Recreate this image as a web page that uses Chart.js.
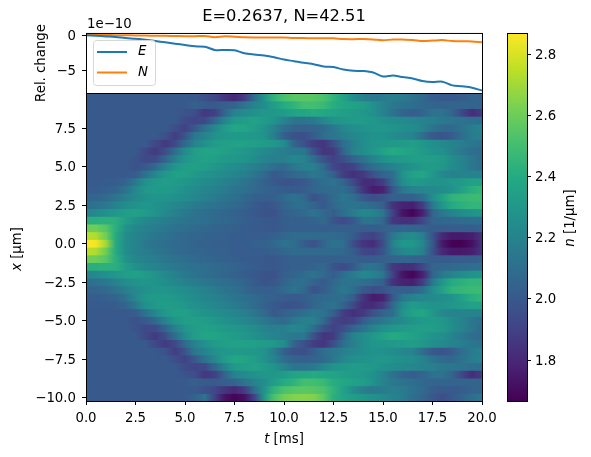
<!DOCTYPE html>
<html>
<head>
<meta charset="utf-8">
<title>Density evolution</title>
<script src="https://cdn.jsdelivr.net/npm/chart.js@4"></script>
<style>
  html, body { margin: 0; padding: 0; background: #fff; }
  canvas { position: absolute; left: 0; top: 0; }
</style>
</head>
<body>
<canvas id="heatChart" width="591" height="457"></canvas>
<canvas id="changeChart" width="591" height="457"></canvas>
<canvas id="barChart" width="591" height="457"></canvas>
<script>
// time samples in ms
const tMs = [0, 0.5, 1, 1.5, 2, 2.5, 3, 3.5, 4, 4.5, 5, 5.5, 6, 6.5, 7, 7.5, 8, 8.5, 9, 9.5, 10,
  10.5, 11, 11.5, 12, 12.5, 13, 13.5, 14, 14.5, 15, 15.5, 16, 16.5, 17, 17.5, 18, 18.5, 19, 19.5, 20];

// relative change, in units of 1e-10
const relE = [0, -0.07, -0.16, -0.25, -0.4, -0.5, -0.63, -0.82, -1.0, -1.2, -1.39, -1.58, -1.63, -2.1, -2.1, -2.15, -2.57, -2.76, -2.9, -3.14, -3.47,
  -3.7, -3.94, -4.13, -4.47, -4.55, -4.89, -5.08, -5.12, -5.32, -5.89, -5.74, -5.97, -6.17, -6.54, -6.68, -6.64, -7.16, -7.3, -7.49, -7.91];
const relN = [0.05, 0.04, 0.03, 0.02, 0, -0.02, -0.04, -0.07, -0.08, -0.1, -0.14, -0.13, -0.1, -0.27, -0.14, -0.2, -0.3, -0.32, -0.31, -0.31, -0.32,
  -0.38, -0.4, -0.44, -0.41, -0.43, -0.55, -0.57, -0.53, -0.59, -0.72, -0.6, -0.62, -0.66, -0.82, -0.76, -0.69, -0.83, -0.87, -0.88, -1.01];

// density n(t) at each |x|, the cloud is mirror symmetric around x = 0
const row00 = [2.87, 2.85, 2.70, 2.40, 2.25, 2.20, 2.15, 2.12, 2.10, 2.08, 2.07, 2.05, 2.04, 2.03, 2.03, 2.02, 2.02, 2.03, 2.04, 2.07, 2.12,
  2.10, 2.02, 1.97, 2.05, 2.13, 2.10, 1.95, 1.85, 1.82, 1.95, 2.20, 2.30, 2.30, 2.22, 2.00, 1.75, 1.67, 1.67, 1.72, 1.85];
const row05 = [2.75, 2.72, 2.60, 2.40, 2.25, 2.20, 2.17, 2.14, 2.12, 2.09, 2.07, 2.06, 2.05, 2.04, 2.03, 2.02, 2.02, 2.02, 2.02, 2.03, 2.06,
  2.09, 2.08, 2.08, 2.08, 2.08, 2.07, 2.02, 1.92, 1.90, 1.98, 2.15, 2.22, 2.25, 2.18, 1.98, 1.80, 1.75, 1.75, 1.77, 1.85];
const row10 = [2.60, 2.60, 2.55, 2.42, 2.28, 2.22, 2.19, 2.17, 2.14, 2.12, 2.10, 2.08, 2.07, 2.05, 2.04, 2.03, 2.02, 2.01, 2.00, 1.99, 2.02,
  2.03, 2.03, 2.03, 2.03, 2.03, 2.03, 2.03, 2.02, 2.02, 2.03, 2.05, 2.06, 2.05, 2.04, 2.02, 2.01, 2.02, 2.02, 2.02, 2.03];
const row15 = [2.42, 2.42, 2.43, 2.42, 2.33, 2.27, 2.22, 2.20, 2.17, 2.15, 2.13, 2.11, 2.10, 2.08, 2.07, 2.05, 2.03, 2.02, 2.00, 1.99, 2.02,
  2.03, 2.03, 2.04, 2.08, 1.98, 1.94, 2.00, 2.12, 2.13, 2.07, 1.86, 1.83, 1.83, 1.92, 2.05, 2.07, 2.08, 2.09, 2.10, 2.10];
const row20 = [2.20, 2.23, 2.27, 2.30, 2.33, 2.35, 2.32, 2.28, 2.23, 2.19, 2.15, 2.12, 2.10, 2.08, 2.06, 2.04, 2.02, 2.00, 1.98, 1.97, 2.03,
  2.05, 2.08, 2.12, 2.08, 2.02, 2.10, 2.16, 2.22, 2.20, 2.14, 1.90, 1.73, 1.68, 1.78, 2.05, 2.15, 2.20, 2.25, 2.28, 2.30];
const row25 = [2.10, 2.12, 2.15, 2.20, 2.25, 2.28, 2.29, 2.28, 2.25, 2.22, 2.19, 2.16, 2.14, 2.12, 2.10, 2.08, 2.05, 2.01, 1.98, 1.99, 2.05,
  2.10, 2.10, 2.05, 2.00, 2.07, 2.12, 2.13, 2.11, 2.08, 2.03, 1.84, 1.78, 1.77, 1.88, 2.15, 2.30, 2.40, 2.43, 2.45, 2.45];
const row30 = [2.05, 2.06, 2.08, 2.13, 2.18, 2.23, 2.27, 2.29, 2.29, 2.27, 2.25, 2.22, 2.19, 2.16, 2.13, 2.11, 2.07, 2.03, 2.03, 2.03, 2.08,
  2.12, 2.08, 1.97, 2.02, 2.08, 2.15, 2.10, 2.00, 1.95, 1.98, 2.03, 2.03, 2.03, 2.10, 2.25, 2.35, 2.44, 2.46, 2.48, 2.48];
const row35 = [2.02, 2.02, 2.03, 2.05, 2.12, 2.22, 2.30, 2.32, 2.32, 2.30, 2.27, 2.24, 2.21, 2.19, 2.16, 2.13, 2.11, 2.08, 2.05, 2.03, 2.02,
  2.00, 2.02, 2.06, 2.08, 2.09, 2.10, 2.02, 1.85, 1.76, 1.78, 2.00, 2.15, 2.20, 2.22, 2.23, 2.25, 2.28, 2.35, 2.42, 2.45];
const row40 = [2.01, 2.01, 2.01, 2.02, 2.05, 2.15, 2.27, 2.31, 2.33, 2.32, 2.30, 2.27, 2.24, 2.22, 2.19, 2.16, 2.13, 2.09, 2.04, 2.00, 1.98,
  1.98, 2.00, 2.06, 2.10, 2.12, 2.05, 1.93, 1.82, 1.82, 1.88, 2.08, 2.25, 2.32, 2.30, 2.28, 2.28, 2.30, 2.32, 2.35, 2.35];
const row45 = [2.00, 2.00, 2.00, 2.00, 2.00, 2.02, 2.12, 2.22, 2.30, 2.34, 2.34, 2.31, 2.28, 2.26, 2.24, 2.21, 2.18, 2.14, 2.08, 2.00, 2.03,
  2.07, 2.10, 2.15, 2.12, 2.03, 1.88, 1.83, 1.87, 1.97, 2.05, 2.10, 2.28, 2.35, 2.38, 2.30, 2.22, 2.20, 2.20, 2.20, 2.20];
const row50 = [2.00, 2.00, 2.00, 2.00, 2.00, 1.97, 2.00, 2.08, 2.20, 2.29, 2.33, 2.34, 2.33, 2.30, 2.27, 2.25, 2.22, 2.18, 2.15, 2.10, 2.08,
  2.15, 2.18, 2.18, 2.08, 1.92, 1.88, 1.90, 2.02, 2.10, 2.15, 2.20, 2.24, 2.28, 2.31, 2.32, 2.30, 2.24, 2.20, 2.14, 2.10];
const row55 = [2.00, 2.00, 2.00, 2.00, 2.00, 1.98, 1.93, 1.94, 2.05, 2.19, 2.29, 2.33, 2.35, 2.34, 2.31, 2.30, 2.28, 2.25, 2.20, 2.18, 2.18,
  2.22, 2.20, 2.10, 1.97, 1.90, 1.95, 2.05, 2.12, 2.20, 2.27, 2.30, 2.32, 2.33, 2.33, 2.33, 2.31, 2.25, 2.20, 2.14, 2.08];
const row60 = [2.00, 2.00, 2.00, 2.00, 2.00, 2.00, 1.93, 1.87, 1.95, 2.10, 2.24, 2.33, 2.37, 2.36, 2.34, 2.32, 2.30, 2.27, 2.23, 2.20, 2.17,
  2.15, 2.15, 1.97, 1.85, 1.87, 2.05, 2.20, 2.25, 2.30, 2.35, 2.40, 2.38, 2.35, 2.32, 2.28, 2.26, 2.20, 2.15, 2.10, 2.08];
const row65 = [2.00, 2.00, 2.00, 2.00, 2.00, 2.00, 2.00, 1.93, 1.87, 1.93, 2.08, 2.20, 2.27, 2.32, 2.34, 2.35, 2.35, 2.34, 2.32, 2.30, 2.25,
  2.05, 1.97, 1.88, 1.85, 1.95, 2.10, 2.18, 2.25, 2.29, 2.30, 2.31, 2.32, 2.33, 2.30, 2.26, 2.23, 2.20, 2.17, 2.14, 2.12];
const row70 = [2.00, 2.00, 2.00, 2.00, 2.00, 2.00, 2.00, 2.00, 1.97, 1.88, 1.98, 2.15, 2.20, 2.27, 2.30, 2.31, 2.31, 2.30, 2.28, 2.17, 2.03,
  1.97, 1.95, 2.02, 2.10, 2.14, 2.18, 2.22, 2.25, 2.28, 2.27, 2.25, 2.22, 2.20, 2.10, 2.00, 1.98, 2.02, 2.10, 2.16, 2.20];
const row75 = [2.00, 2.00, 2.00, 2.00, 2.00, 2.00, 2.00, 2.00, 2.00, 1.95, 1.90, 2.00, 2.12, 2.22, 2.32, 2.38, 2.37, 2.33, 2.28, 2.20, 2.10,
  2.05, 2.03, 2.05, 2.08, 2.15, 2.22, 2.26, 2.28, 2.29, 2.30, 2.28, 2.26, 2.25, 2.20, 2.13, 2.08, 2.07, 2.12, 2.17, 2.20];
const row80 = [2.00, 2.00, 2.00, 2.00, 2.00, 2.00, 2.00, 2.00, 2.00, 2.00, 1.94, 1.91, 1.93, 2.06, 2.20, 2.31, 2.33, 2.35, 2.32, 2.28, 2.20,
  2.13, 2.13, 2.15, 2.22, 2.28, 2.30, 2.32, 2.32, 2.30, 2.27, 2.25, 2.23, 2.22, 2.20, 2.18, 2.15, 2.14, 2.12, 2.11, 2.10];
const row85 = [2.00, 2.00, 2.00, 2.00, 2.00, 2.00, 2.00, 2.00, 2.00, 2.00, 1.98, 1.95, 1.86, 1.89, 2.05, 2.20, 2.24, 2.27, 2.30, 2.30, 2.32,
  2.36, 2.38, 2.40, 2.38, 2.36, 2.34, 2.32, 2.30, 2.27, 2.20, 2.12, 2.05, 2.02, 2.05, 2.12, 2.12, 2.05, 1.92, 1.82, 1.88];
const row90 = [2.00, 2.00, 2.00, 2.00, 2.00, 2.00, 2.00, 2.00, 2.00, 2.00, 2.00, 2.03, 2.01, 2.00, 2.03, 2.05, 2.13, 2.20, 2.25, 2.33, 2.40,
  2.44, 2.50, 2.50, 2.47, 2.41, 2.38, 2.35, 2.33, 2.27, 2.20, 2.15, 2.12, 2.10, 2.07, 2.05, 2.05, 2.05, 2.05, 2.05, 2.05];
const row95 = [2.00, 2.00, 2.00, 2.00, 2.00, 2.00, 2.00, 2.00, 2.00, 2.00, 2.00, 2.00, 1.96, 1.92, 1.85, 1.80, 1.88, 2.10, 2.28, 2.44, 2.52,
  2.55, 2.56, 2.55, 2.52, 2.44, 2.35, 2.25, 2.18, 2.15, 2.16, 2.18, 2.16, 2.12, 2.08, 2.02, 2.00, 2.00, 2.02, 2.04, 2.05];
const row100 = [2.00, 2.00, 2.00, 2.00, 2.00, 2.00, 2.00, 2.00, 2.00, 2.00, 2.00, 2.04, 2.12, 1.90, 1.73, 1.68, 1.72, 1.90, 2.30, 2.52, 2.61,
  2.64, 2.65, 2.64, 2.56, 2.42, 2.36, 2.33, 2.30, 2.27, 2.24, 2.20, 2.16, 2.10, 2.06, 2.00, 1.95, 2.00, 2.05, 2.10, 2.15];
const profiles = [row00, row05, row10, row15, row20, row25, row30, row35, row40, row45, row50,
  row55, row60, row65, row70, row75, row80, row85, row90, row95, row100];

// grid rows every 0.5 um, index -20 to 19, cell centres as the mesh places them
const gridIndex = [];
for (let k = -20; k < 20; k++) gridIndex.push(k);
const xOffset = 0.05;

const tTicks = [0, 2.5, 5, 7.5, 10, 12.5, 15, 17.5, 20];
const xTicks = [-10, -7.5, -5, -2.5, 0, 2.5, 5, 7.5];
const nTicks = [1.8, 2.0, 2.2, 2.4, 2.6, 2.8];
const changeTicks = [-5, 0];

const nMin = 1.666;
const nMax = 2.87;
const viridis = ["#440154", "#482475", "#414487", "#355f8d", "#2a788e", "#21918c", "#22a884", "#44bf70", "#7ad151", "#bddf26", "#fde725"];

const FONT = "'DejaVu Sans'";
const TICK_SIZE = 13.3;

function hexRgb(h) {
  return [1, 3, 5].map((i) => parseInt(h.substr(i, 2), 16));
}

function colorFor(n) {
  const f = Math.min(Math.max((n - nMin) / (nMax - nMin), 0), 1) * (viridis.length - 1);
  const i = Math.min(Math.floor(f), viridis.length - 2);
  const a = hexRgb(viridis[i]);
  const b = hexRgb(viridis[i + 1]);
  const c = a.map((v, k) => Math.round(v + (b[k] - v) * (f - i)));
  return `rgb(${c[0]},${c[1]},${c[2]})`;
}

function minusLabel(v, digits) {
  return (v < 0 ? "\u2212" : "") + Math.abs(v).toFixed(digits);
}

function fixedTicks(values) {
  return (scale) => {
    scale.ticks = values.map((v) => ({ value: v }));
  };
}

// black box around the plot area
const frame = {
  id: "frame",
  afterDraw(chart) {
    const a = chart.chartArea;
    const ctx = chart.ctx;
    ctx.save();
    ctx.strokeStyle = "#000";
    ctx.lineWidth = 1;
    ctx.strokeRect(a.left + 0.5, a.top + 0.5, a.right - a.left, a.bottom - a.top);
    ctx.restore();
  },
};

// axis labels that mix an italic symbol with upright units
function drawLabel(ctx, cx, cy, angle, parts) {
  ctx.save();
  ctx.translate(cx, cy);
  ctx.rotate(angle);
  ctx.fillStyle = "#000";
  ctx.textBaseline = "middle";
  ctx.textAlign = "left";
  const fonts = parts.map((p) => `${p.italic ? "italic " : ""}${TICK_SIZE}px ${FONT}`);
  let total = 0;
  const widths = parts.map((p, i) => {
    ctx.font = fonts[i];
    const w = ctx.measureText(p.text).width;
    total += w;
    return w;
  });
  let pos = -total / 2;
  parts.forEach((p, i) => {
    ctx.font = fonts[i];
    ctx.fillText(p.text, pos, 0);
    pos += widths[i];
  });
  ctx.restore();
}

const heatLabels = {
  id: "heatLabels",
  afterDraw(chart) {
    const ctx = chart.ctx;
    drawLabel(ctx, 284, 440, 0, [{ text: "t", italic: true }, { text: " [ms]" }]);
    drawLabel(ctx, 18, 249, -Math.PI / 2, [{ text: "x", italic: true }, { text: " [µm]" }]);
  },
};

// small legend inside the plot plus the 1e-10 offset above the axis
const insetLegend = {
  id: "insetLegend",
  afterDatasetsDraw(chart) {
    const ctx = chart.ctx;
    ctx.save();
    ctx.beginPath();
    ctx.roundRect(93.5, 40.5, 62, 45, 3);
    ctx.fillStyle = "rgba(255,255,255,0.8)";
    ctx.fill();
    ctx.strokeStyle = "#d6d6d6";
    ctx.lineWidth = 1;
    ctx.stroke();
    chart.data.datasets.forEach((ds, i) => {
      const y = 52 + i * 20.5;
      ctx.beginPath();
      ctx.moveTo(97, y);
      ctx.lineTo(127, y);
      ctx.strokeStyle = ds.borderColor;
      ctx.lineWidth = 2;
      ctx.stroke();
      ctx.fillStyle = "#000";
      ctx.font = `italic ${TICK_SIZE}px ${FONT}`;
      ctx.textAlign = "left";
      ctx.textBaseline = "middle";
      ctx.fillText(ds.label, 138, y);
    });
    ctx.restore();
  },
  afterDraw(chart) {
    const ctx = chart.ctx;
    ctx.save();
    ctx.fillStyle = "#000";
    ctx.font = `${TICK_SIZE}px ${FONT}`;
    ctx.textAlign = "left";
    ctx.textBaseline = "alphabetic";
    ctx.fillText("1e\u221210", 87, 28);
    ctx.restore();
  },
};

const barLabel = {
  id: "barLabel",
  afterDraw(chart) {
    drawLabel(chart.ctx, 571, 218, -Math.PI / 2, [{ text: "n", italic: true }, { text: " [1/µm]" }]);
  },
};

const tickStyle = { color: "#000", font: { family: FONT, size: TICK_SIZE }, padding: 4, autoSkip: false, maxRotation: 0 };
const gridStyle = { drawOnChartArea: false, drawTicks: true, tickLength: 4, tickColor: "#000", tickWidth: 1 };
const borderStyle = { display: false };

// one floating bar per cell, shaded from its left sample to its right sample
function cellFill(ctx) {
  const chart = ctx.chart;
  if (!chart.chartArea || !ctx.raw) return "#000";
  const scale = chart.scales.x;
  const g = chart.ctx.createLinearGradient(scale.getPixelForValue(ctx.raw.x[0]), 0, scale.getPixelForValue(ctx.raw.x[1]), 0);
  g.addColorStop(0, colorFor(ctx.raw.n0));
  g.addColorStop(1, colorFor(ctx.raw.n1));
  return g;
}

const cellDatasets = [];
for (let i = 0; i < tMs.length - 1; i++) {
  cellDatasets.push({
    data: gridIndex.map((k) => {
      const row = profiles[Math.abs(k)];
      return { x: [tMs[i], tMs[i + 1]], y: k / 2 + xOffset, n0: row[i], n1: row[i + 1] };
    }),
    backgroundColor: cellFill,
    borderWidth: 0,
    inflateAmount: 0.6,
    barPercentage: 1,
    categoryPercentage: 1,
    grouped: false,
  });
}

new Chart(document.getElementById("heatChart"), {
  type: "bar",
  data: { datasets: cellDatasets },
  plugins: [frame, heatLabels],
  options: {
    indexAxis: "y",
    responsive: false,
    animation: false,
    layout: { padding: { top: 93, right: 109, left: 0, bottom: 0 } },
    plugins: { legend: { display: false }, tooltip: { enabled: false } },
    scales: {
      x: {
        type: "linear",
        min: 0,
        max: 20,
        afterBuildTicks: fixedTicks(tTicks),
        afterFit: (s) => { s.height = 56; },
        grid: gridStyle,
        border: borderStyle,
        ticks: { ...tickStyle, padding: 6, callback: (v) => v.toFixed(1) },
      },
      y: {
        type: "linear",
        min: -10.2,
        max: 9.8,
        offset: false,
        afterBuildTicks: fixedTicks(xTicks),
        afterFit: (s) => { s.width = 86; },
        grid: { ...gridStyle, offset: false },
        border: borderStyle,
        ticks: { ...tickStyle, padding: 6, labelOffset: 1, callback: (v) => minusLabel(v, 1) },
      },
    },
  },
});

// upper panel with the rel. change lines
new Chart(document.getElementById("changeChart"), {
  type: "line",
  data: {
    datasets: [
      { label: "E", data: tMs.map((t, i) => ({ x: t, y: relE[i] })), borderColor: "#1f77b4", borderWidth: 2, pointRadius: 0, tension: 0.3 },
      { label: "N", data: tMs.map((t, i) => ({ x: t, y: relN[i] })), borderColor: "#ff7f0e", borderWidth: 2, pointRadius: 0, tension: 0.3 },
    ],
  },
  plugins: [frame, insetLegend],
  options: {
    responsive: false,
    animation: false,
    layout: { padding: { top: 0, right: 109, left: 0, bottom: 364 } },
    plugins: {
      legend: { display: false },
      tooltip: { enabled: false },
      title: {
        display: true,
        fullSize: false,
        text: "E=0.2637, N=42.51",
        color: "#000",
        font: { family: FONT, size: 16.3, weight: "normal", lineHeight: 1.2 },
        padding: { top: 7.4, bottom: 6 },
      },
    },
    scales: {
      x: { type: "linear", min: 0, max: 20, display: false },
      y: {
        min: -8.25,
        max: 0.33,
        afterBuildTicks: fixedTicks(changeTicks),
        afterFit: (s) => { s.width = 86; },
        grid: gridStyle,
        border: borderStyle,
        ticks: { ...tickStyle, padding: 6, labelOffset: 1, callback: (v) => minusLabel(v, 0) },
        title: {
          display: true,
          text: "Rel. change",
          color: "#000",
          font: { family: FONT, size: TICK_SIZE, lineHeight: 1.2 },
          padding: { top: 34, bottom: 0 },
        },
      },
    },
  },
});

// colour bar, one floating bar spanning the value range
function barFill(ctx) {
  const chart = ctx.chart;
  if (!chart.chartArea) return "#000";
  const g = chart.ctx.createLinearGradient(0, chart.chartArea.bottom, 0, chart.chartArea.top);
  viridis.forEach((c, i) => g.addColorStop(i / (viridis.length - 1), c));
  return g;
}

new Chart(document.getElementById("barChart"), {
  type: "bar",
  data: {
    labels: ["n"],
    datasets: [{ data: [[nMin, nMax]], backgroundColor: barFill, borderWidth: 0, barPercentage: 1, categoryPercentage: 1 }],
  },
  plugins: [frame, barLabel],
  options: {
    responsive: false,
    animation: false,
    layout: { padding: { top: 33, right: 0, left: 507, bottom: 56 } },
    plugins: { legend: { display: false }, tooltip: { enabled: false } },
    scales: {
      x: { display: false },
      y: {
        position: "right",
        min: nMin,
        max: nMax,
        afterBuildTicks: fixedTicks(nTicks),
        afterFit: (s) => { s.width = 64; },
        grid: gridStyle,
        border: borderStyle,
        ticks: { ...tickStyle, labelOffset: 1, callback: (v) => v.toFixed(1) },
      },
    },
  },
});
</script>
</body>
</html>
